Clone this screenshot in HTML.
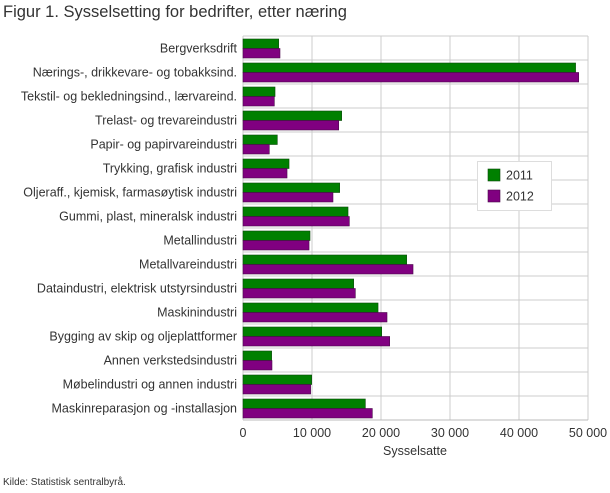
<!DOCTYPE html>
<html><head><meta charset="utf-8"><style>
body{margin:0;background:#fff;font-family:"Liberation Sans",sans-serif;}
svg text{font-family:"Liberation Sans",sans-serif;fill:#333;}
</style></head><body>
<svg id="chart" width="610" height="488" xmlns="http://www.w3.org/2000/svg">
<text x="3" y="17" font-size="16.5" fill="#222">Figur 1. Sysselsetting for bedrifter, etter næring</text>
<g id="grid"></g><g id="bars"></g><g id="labels"></g><g id="ticks"></g>
<text x="415" y="455" font-size="12.5" text-anchor="middle">Sysselsatte</text>
<text x="3" y="485" font-size="10">Kilde: Statistisk sentralbyrå.</text>
<g>
<rect x="477.5" y="161.5" width="74" height="49" fill="#fff" stroke="#ddd"/>
<rect x="488" y="169" width="12" height="12" fill="#008000" stroke="#0a4a0a" stroke-width="0.6"/>
<text x="506" y="179.5" font-size="12.5">2011</text>
<rect x="488" y="190" width="12" height="12" fill="#800080" stroke="#4a0a4a" stroke-width="0.6"/>
<text x="506" y="200.5" font-size="12.5">2012</text>
</g>
</svg>
<script>
const categories=["Bergverksdrift","Nærings-, drikkevare- og tobakksind.","Tekstil- og bekledningsind., lærvareind.","Trelast- og trevareindustri","Papir- og papirvareindustri","Trykking, grafisk industri","Oljeraff., kjemisk, farmasøytisk industri","Gummi, plast, mineralsk industri","Metallindustri","Metallvareindustri","Dataindustri, elektrisk utstyrsindustri","Maskinindustri","Bygging av skip og oljeplattformer","Annen verkstedsindustri","Møbelindustri og annen industri","Maskinreparasjon og -installasjon"];
const values2011=[5170,48200,4640,14300,4970,6670,14010,15220,9710,23720,16040,19570,20100,4150,9950,17730];
const values2012=[5360,48650,4540,13870,3810,6380,13040,15410,9570,24640,16280,20870,21260,4200,9800,18740];
const tickValues=[0,10000,20000,30000,40000,50000];
const tickLabels=["0","10 000","20 000","30 000","40 000","50 000"];
const NS="http://www.w3.org/2000/svg";
const X0=243,X1=588,Y0=36,BAND=24,XMAX=50000;
const xs=v=>X0+(v/XMAX)*(X1-X0);
const ys=i=>Y0+i*BAND;
function mk(tag,at,parent){const e=document.createElementNS(NS,tag);for(const k in at)e.setAttribute(k,at[k]);document.getElementById(parent).appendChild(e);return e;}
tickValues.forEach((v,i)=>{
 const l=mk('line',{x1:xs(v),x2:xs(v),y1:Y0,y2:Y0+categories.length*BAND,stroke:'#ccc'},'grid');
 
 
 const t=mk('text',{x:xs(v),y:437,'font-size':12.5,'text-anchor':'middle'},'ticks');
 
 
 t.textContent=tickLabels[i];
});
for(let i=0;i<=categories.length;i++){
 const l=mk('line',{x1:X0,x2:X1,y1:ys(i),y2:ys(i),stroke:i===categories.length?'#bbb':'#ccc'},'grid');
 
 
}
categories.forEach((c,i)=>{
 const b1=mk('rect',{x:X0,y:ys(i)+3,width:xs(values2011[i])-X0,height:9.5,fill:'#008000',stroke:'#0a4a0a','stroke-width':0.6},'bars');
 
 
 const b2=mk('rect',{x:X0,y:ys(i)+12.5,width:xs(values2012[i])-X0,height:9.5,fill:'#800080',stroke:'#4a0a4a','stroke-width':0.6},'bars');
 
 
 const t=mk('text',{x:237,y:ys(i)+16.5,'font-size':12.5,'text-anchor':'end'},'labels');
 
 
 t.textContent=c;
});
</script>
</body></html>
